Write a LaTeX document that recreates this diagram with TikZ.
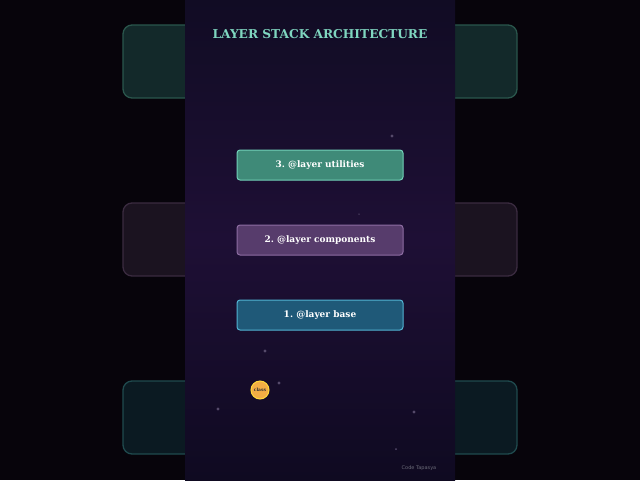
\documentclass[tikz,border=0pt]{standalone}
\usepackage{fontspec}
\setmainfont{DejaVu Serif}
\newfontfamily\wmfont{DejaVu Sans}
\frenchspacing
\definecolor{bgdark}{HTML}{07040B}
\definecolor{ptop}{HTML}{110C24}
\definecolor{pmid}{HTML}{1E0F35}
\definecolor{pbot}{HTML}{0F0A21}
\definecolor{titlec}{HTML}{7FD6C0}
\definecolor{utilfill}{HTML}{3F8A78}
\definecolor{utildraw}{HTML}{72D2B9}
\definecolor{compfill}{HTML}{573C6C}
\definecolor{compdraw}{HTML}{8E6DA3}
\definecolor{basefill}{HTML}{1F5978}
\definecolor{basedraw}{HTML}{52B4D4}
\definecolor{ghostgfill}{HTML}{13292A}
\definecolor{ghostgdraw}{HTML}{2A564C}
\definecolor{ghostpfill}{HTML}{1B1320}
\definecolor{ghostpdraw}{HTML}{3A2B40}
\definecolor{ghosttfill}{HTML}{0B1A22}
\definecolor{ghosttdraw}{HTML}{1F4A4E}
\definecolor{dotc}{HTML}{554A6A}
\definecolor{classfill}{HTML}{F2AE45}
\definecolor{classdraw}{HTML}{FFD93A}
\definecolor{wmc}{HTML}{6A6A78}
\tikzset{
  layerbox/.style={draw, line width=1pt, rounded corners=3pt, minimum width=166pt, minimum height=30pt, text=white, font=\fontsize{9}{10}\selectfont\bfseries, inner sep=0pt},
  ghost/.style={line width=1.3pt, rounded corners=9pt},
  sparkle/.style={circle, fill=dotc, inner sep=0pt, minimum size=3.2pt},
}
\begin{document}
\begin{tikzpicture}[x=1pt,y=-1pt]
\useasboundingbox (0,0) rectangle (640,480);
\fill[bgdark] (0,0) rectangle (640,480);
% side ghost boxes
\draw[ghost, fill=ghostgfill, draw=ghostgdraw] (123,25) rectangle (517,98);
\draw[ghost, fill=ghostpfill, draw=ghostpdraw] (123,203) rectangle (517,276);
\draw[ghost, fill=ghosttfill, draw=ghosttdraw] (123,381) rectangle (517,454);
% center panel
\shade[top color=ptop, bottom color=pbot, middle color=pmid] (185,0) rectangle (455,480);
% sparkles
\node[sparkle] (s1) at (392,136) {};
\node[sparkle] (s2) at (265,351) {};
\node[sparkle] (s3) at (279,383) {};
\node[sparkle] (s4) at (218,409) {};
\node[sparkle] (s5) at (414,412) {};
\node[sparkle, minimum size=2pt] (s6) at (396,449) {};
\node[sparkle, minimum size=1.5pt] (s7) at (359,214) {};
% title
\node[text=titlec, font=\fontsize{12.2}{14}\selectfont\bfseries] (title) at (320,34) {LAYER STACK ARCHITECTURE};
% layers
\node[layerbox, fill=utilfill, draw=utildraw] (util) at (320,165) {3. @layer utilities};
\node[layerbox, fill=compfill, draw=compdraw] (comp) at (320,240) {2. @layer components};
\node[layerbox, fill=basefill, draw=basedraw] (base) at (320,315) {1. @layer base};
% class token
\node[circle, fill=classfill, draw=classdraw, line width=1pt, minimum size=18pt, inner sep=0pt, font=\fontsize{4.5}{5}\selectfont\bfseries, text=black!80] (cls) at (260,390) {class};
% watermark
\node[text=wmc, font=\wmfont\fontsize{5}{6}\selectfont] (wm) at (419,468) {Code Tapasya};
\end{tikzpicture}
\end{document}
